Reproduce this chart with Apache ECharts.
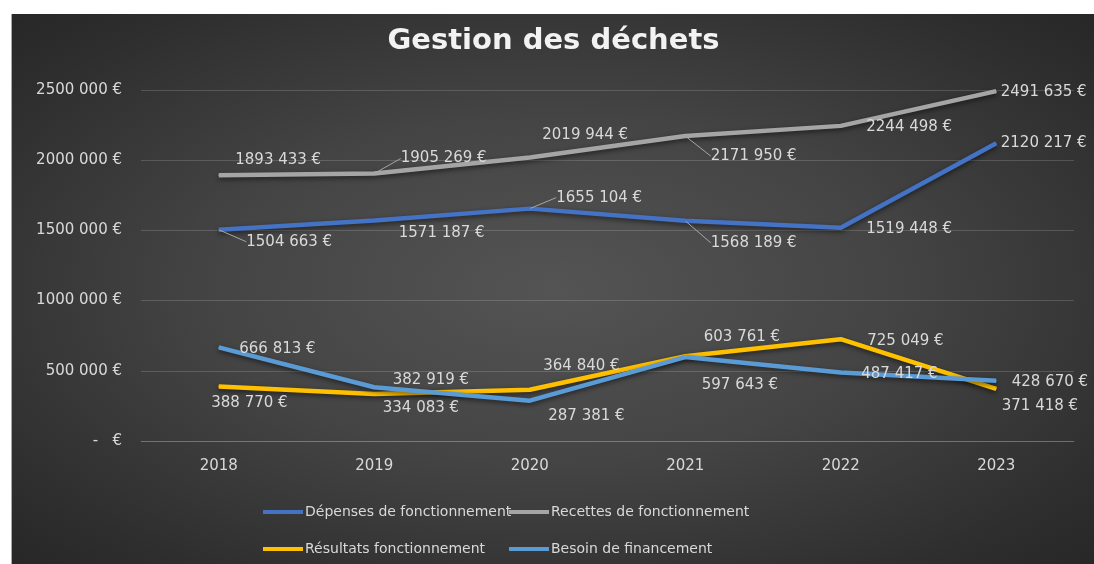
<!DOCTYPE html>
<html>
<head>
<meta charset="utf-8">
<script src="https://cdn.jsdelivr.net/npm/echarts@6/dist/echarts.min.js"></script>
<style>
  html, body { margin: 0; padding: 0; background: #ffffff; }
  #chart {
    position: absolute;
    left: 11px;
    top: 14px;
    width: 1083px;
    height: 550px;
    border-left: 1px solid #a8a8a8;
    background: radial-gradient(ellipse at 50% 50%, #545454 0%, #444444 45%, #2e2e2e 85%, #272727 100%);
  }
</style>
</head>
<body>
<div id="chart"></div>
<script>
const years = ['2018', '2019', '2020', '2021', '2022', '2023']
const depenses = [1504663, 1571187, 1655104, 1568189, 1519448, 2120217]
const recettes = [1893433, 1905269, 2019944, 2171950, 2244498, 2491635]
const resultats = [388770, 334083, 364840, 603761, 725049, 371418]
const besoin = [666813, 382919, 287381, 597643, 487417, 428670]
const yTicks = [0, 500000, 1000000, 1500000, 2000000, 2500000]

// label shifts (px) from each point, copied from the Excel layout
const shiftDepenses = [[27, 12], [24, 13], [26, -11], [25, 22], [25, 1], [4, 0]]
const shiftRecettes = [[16, -15], [26, -15], [12, -22], [25, 20], [25, 1], [4, 1]]
const shiftResultats = [[-8, 17], [8, 14], [13, -24], [18, -19], [26, 2], [5, 17]]
const shiftBesoin = [[20, 2], [18, -7], [18, 15], [16, 28], [20, 2], [15, 1]]

const FONT = 'DejaVu Sans'
const TXT = '#d9d9d9'

function euro(v) {
  if (v === 0) return '-   €'
  const k = Math.floor(v / 1000)
  const r = String(v % 1000).padStart(3, '0')
  return k + ' ' + r + ' €'
}

function makeSeries(name, values, color, shifts, leaders) {
  return {
    name: name,
    type: 'line',
    data: values.map((v, i) => ({ value: v, labelLine: { show: leaders.includes(i) } })),
    symbol: 'circle',
    symbolSize: 1,
    showSymbol: true,
    itemStyle: { color: color },
    lineStyle: {
      width: 4.5,
      color: color,
      shadowColor: 'rgba(0,0,0,0.55)',
      shadowBlur: 5,
      shadowOffsetY: 2
    },
    label: {
      show: true,
      position: 'right',
      distance: 0,
      formatter: p => euro(p.value),
      color: TXT,
      fontFamily: FONT,
      fontSize: 15
    },
    labelLine: {
      show: true,
      lineStyle: { color: '#a6a6a6', width: 1 }
    },
    labelLayout: p => ({ dx: shifts[p.dataIndex][0], dy: shifts[p.dataIndex][1] }),
    emphasis: { disabled: true }
  }
}

const legendBase = {
  orient: 'vertical',
  top: 490,
  padding: 0,
  itemGap: 21,
  itemWidth: 40,
  itemHeight: 4,
  icon: 'rect',
  textStyle: { color: TXT, fontFamily: FONT, fontSize: 14, lineHeight: 16, padding: [0, 0, 0, -3] }
}

const myChart = echarts.init(document.getElementById('chart'))
const option = {
  backgroundColor: 'transparent',
  animation: false,
  title: {
    text: 'Gestion des déchets',
    left: 'center',
    top: 8,
    textStyle: {
      color: '#f2f2f2',
      fontFamily: FONT,
      fontWeight: 'bold',
      fontSize: 29
    }
  },
  legend: [
    Object.assign({}, legendBase, {
      left: 251,
      data: ['Dépenses de fonctionnement', 'Résultats fonctionnement']
    }),
    Object.assign({}, legendBase, {
      left: 497,
      data: ['Recettes de fonctionnement', 'Besoin de financement']
    })
  ],
  grid: {
    left: 129,
    right: 21,
    top: 76,
    bottom: 123
  },
  xAxis: {
    type: 'category',
    data: years,
    boundaryGap: true,
    axisLine: { show: true, lineStyle: { color: 'rgba(255,255,255,0.16)', width: 1 } },
    axisTick: { show: false },
    axisLabel: { color: TXT, fontFamily: FONT, fontSize: 15, margin: 18 }
  },
  yAxis: {
    type: 'value',
    min: yTicks[0],
    max: yTicks[yTicks.length - 1],
    interval: yTicks[1] - yTicks[0],
    axisLine: { show: false },
    axisTick: { show: false },
    splitLine: { lineStyle: { color: 'rgba(255,255,255,0.16)', width: 1 } },
    axisLabel: {
      color: TXT,
      fontFamily: FONT,
      fontSize: 15,
      margin: 19,
      formatter: v => euro(v)
    }
  },
  series: [
    makeSeries('Dépenses de fonctionnement', depenses, '#4472c4', shiftDepenses, [0, 2, 3]),
    makeSeries('Recettes de fonctionnement', recettes, '#a5a5a5', shiftRecettes, [1, 3]),
    makeSeries('Résultats fonctionnement', resultats, '#ffc000', shiftResultats, []),
    makeSeries('Besoin de financement', besoin, '#5b9bd5', shiftBesoin, [])
  ]
}
myChart.setOption(option)
window.addEventListener('resize', () => myChart.resize())
</script>
</body>
</html>
